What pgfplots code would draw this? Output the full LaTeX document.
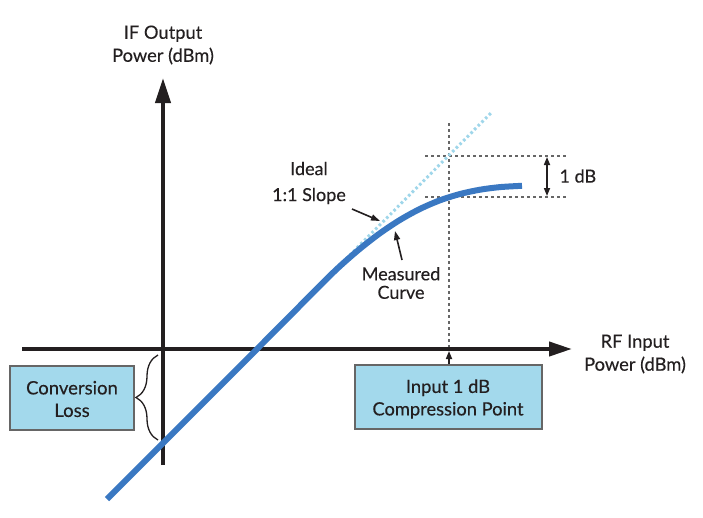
\documentclass[border=0pt]{standalone}
\usepackage{pgfplots}
\pgfplotsset{compat=1.18}
\usepackage{fontspec}
\setmainfont{Lato}[FakeBold=0.3]
\usetikzlibrary{arrows.meta,decorations.pathreplacing}
\definecolor{curveblue}{HTML}{3A78C2}
\definecolor{idealblue}{HTML}{9FD6EA}
\definecolor{boxblue}{HTML}{A3D9EC}
\definecolor{axisdark}{HTML}{231F20}
\definecolor{dashgray}{HTML}{666666}
\begin{document}
\begin{tikzpicture}
\begin{axis}[hide axis, scale only axis, width=703pt, height=517pt,
  xmin=0, xmax=703, ymin=0, ymax=517, y dir=reverse, clip=false]
\path (axis cs:0,0) rectangle (axis cs:703,517);
% dashed guides
\draw[dashgray, line width=1.4pt, dash pattern=on 3pt off 3pt] (axis cs:449,123) -- (axis cs:449,349);
\draw[dashgray, line width=1.4pt, dash pattern=on 3pt off 3pt] (axis cs:425,156) -- (axis cs:566,156);
\draw[dashgray, line width=1.4pt, dash pattern=on 3pt off 3pt] (axis cs:425,197) -- (axis cs:566,197);
% axes
\draw[axisdark, line width=4pt, -{Triangle[length=23pt,width=14pt]}] (axis cs:22,349) -- (axis cs:572,349);
\draw[axisdark, line width=4pt, -{Triangle[length=25pt,width=15pt]}] (axis cs:163,465) -- (axis cs:163,78);
% ideal slope
\addplot[idealblue, line width=3pt, dash pattern=on 2.6pt off 2.6pt] coordinates {(335,270) (491,113)};
% measured curve
\addplot[curveblue, line width=6pt, smooth, tension=0.5] coordinates {
(107,499) (257,349) (320,285.6) (340,266.1) (360,248.7) (380,233.2)
(400,219.9) (420,208.9) (440,200.3) (460,194.0) (480,189.7)
(500,187.1) (522,185.8)};
% annotation arrows
\draw[axisdark, line width=1.6pt, -{Triangle[length=9pt,width=6pt]}] (axis cs:352,209) -- (axis cs:380,221);
\draw[axisdark, line width=1.6pt, -{Triangle[length=9pt,width=6pt]}] (axis cs:402,260) -- (axis cs:395,231);
\draw[axisdark, line width=1.6pt, -{Triangle[length=8pt,width=6pt]}] (axis cs:449,365) -- (axis cs:449,351);
\draw[axisdark, line width=1.6pt, {Triangle[length=8pt,width=6pt]}-{Triangle[length=8pt,width=6pt]}] (axis cs:547,157) -- (axis cs:547,196);
% brace
\draw[axisdark, line width=1.3pt, decorate, decoration={brace, amplitude=22pt, aspect=0.5}] (axis cs:158,440) -- (axis cs:158,355);
% boxes
\draw[dashgray, line width=1.3pt, fill=boxblue] (axis cs:10,366) rectangle (axis cs:134,430);
\draw[dashgray, line width=1.3pt, fill=boxblue] (axis cs:355,365) rectangle (axis cs:542,429);
% texts
\node[align=center, font=\fontsize{18.5}{22.5}\selectfont, text=axisdark] at (axis cs:72,399) {Conversion\\Loss};
\node[align=center, font=\fontsize{18.3}{22.5}\selectfont, text=axisdark] at (axis cs:448,399) {Input 1 dB\\Compression Point};
\node[align=center, font=\fontsize{18.3}{23}\selectfont, text=axisdark] at (axis cs:163,45) {IF Output\\Power (dBm)};
\node[align=center, font=\fontsize{18.3}{23}\selectfont, text=axisdark] at (axis cs:635,354) {RF Input\\Power (dBm)};
\node[align=center, font=\fontsize{18}{26}\selectfont, text=axisdark] at (axis cs:309,183) {Ideal\\1:1 Slope};
\node[align=center, font=\fontsize{18}{18.5}\selectfont, text=axisdark] at (axis cs:401,283) {Measured\\Curve};
\node[anchor=west, font=\fontsize{18}{20}\selectfont, text=axisdark] at (axis cs:556,176) {1 dB};
\end{axis}
\end{tikzpicture}
\end{document}
